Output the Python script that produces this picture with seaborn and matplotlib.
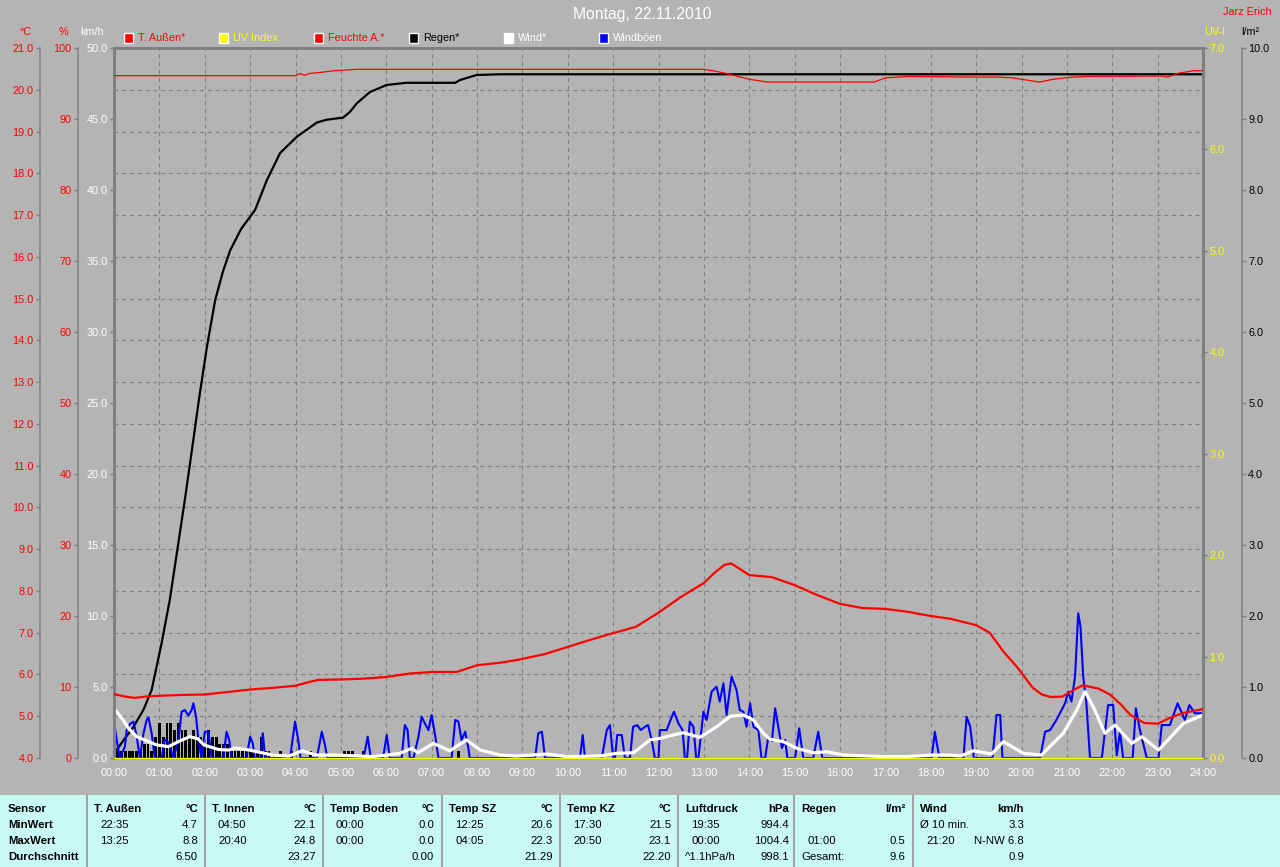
import numpy as np
import pandas as pd
import matplotlib
matplotlib.use("Agg")
import matplotlib.pyplot as plt
import seaborn as sns
from matplotlib.patches import Rectangle
from matplotlib.lines import Line2D

# ---------------- data ----------------
temp_h = [0.0, 0.25, 0.45, 0.7, 1.0, 1.5, 2.0, 2.5, 3.0, 3.5, 4.0, 4.3, 4.5, 5.0, 5.5,
          6.0, 6.5, 7.0, 7.55, 8.0, 8.5, 8.9, 9.5, 10.0, 10.5, 11.0, 11.5, 12.0, 12.5, 13.0,
          13.25, 13.45, 13.6, 13.8, 14.0, 14.5, 15.0, 15.5, 16.0, 16.5, 17.0, 17.5, 18.0, 18.45, 19.0,
          19.3, 19.6, 19.9, 20.25, 20.45, 20.65, 20.9, 21.15, 21.35, 21.7, 21.95, 22.2, 22.4, 22.7, 23.0,
          23.27, 23.57, 24.0]
temp_c = [5.53, 5.47, 5.44, 5.47, 5.49, 5.51, 5.52, 5.58, 5.64, 5.68, 5.73, 5.82, 5.87, 5.88, 5.90,
          5.94, 6.02, 6.06, 6.06, 6.22, 6.28, 6.35, 6.49, 6.66, 6.83, 6.99, 7.14, 7.48, 7.86, 8.19,
          8.45, 8.62, 8.66, 8.52, 8.38, 8.33, 8.14, 7.90, 7.69, 7.59, 7.57, 7.50, 7.40, 7.33, 7.18,
          7.00, 6.55, 6.18, 5.68, 5.52, 5.46, 5.47, 5.63, 5.74, 5.66, 5.52, 5.27, 5.03, 4.84, 4.82,
          4.96, 5.08, 5.17]

hum_h = [0.0, 4.0, 4.1, 4.2, 4.3, 4.6, 4.85, 5.35, 13.0, 13.2, 13.5, 14.0, 14.4, 16.75, 17.0,
         17.5, 19.0, 19.5, 19.8, 20.4, 20.7, 21.1, 21.5, 23.1, 23.2, 23.3, 23.5, 23.8, 24.0]
hum_pct = [96.1, 96.1, 96.4, 96.15, 96.4, 96.6, 96.8, 97.0, 97.0, 96.8, 96.4, 95.6, 95.2, 95.2, 95.8,
           96.0, 95.9, 95.9, 95.8, 95.2, 95.6, 95.9, 96.0, 96.05, 95.9, 96.1, 96.5, 96.8, 96.8]

rain_cum_h = [0.0, 0.1, 0.21, 0.43, 0.65, 0.83, 0.94, 1.05, 1.23, 1.4, 1.56, 1.72, 1.87, 2.05, 2.23,
              2.4, 2.56, 2.8, 3.11, 3.37, 3.66, 4.03, 4.25, 4.47, 4.69, 5.05, 5.2, 5.35, 5.64, 6.01,
              6.45, 7.52, 7.63, 7.99, 8.51, 24.0]
rain_cum = [0.08, 0.15, 0.25, 0.44, 0.68, 0.96, 1.29, 1.62, 2.23, 2.95, 3.63, 4.35, 5.04, 5.8, 6.45,
            6.85, 7.15, 7.45, 7.72, 8.14, 8.52, 8.75, 8.85, 8.95, 8.99, 9.02, 9.1, 9.22, 9.38, 9.48,
            9.51, 9.51, 9.55, 9.62, 9.63, 9.63]

rain_bar_min = [0, 5, 10, 15, 20, 25, 30, 35, 40, 45, 50, 55, 60, 65, 70, 75, 80, 85, 90, 95,
                100, 105, 110, 115, 120, 125, 130, 135, 140, 145, 150, 155, 160, 165, 170, 175,
                180, 185, 190, 195, 200, 205, 220, 235, 260, 305, 310, 315, 330, 455]
rain_bar = [0.1, 0.1, 0.1, 0.1, 0.1, 0.1, 0.1, 0.1, 0.2, 0.2, 0.1, 0.3, 0.5, 0.3, 0.5, 0.5, 0.4, 0.5, 0.4, 0.4,
            0.3, 0.4, 0.3, 0.3, 0.2, 0.4, 0.3, 0.3, 0.2, 0.2, 0.2, 0.1, 0.1, 0.1, 0.1, 0.1,
            0.1, 0.1, 0.1, 0.3, 0.1, 0.1, 0.1, 0.1, 0.1, 0.1, 0.1, 0.1, 0.1, 0.1]

wind_h = [0.0, 0.2, 0.32, 0.5, 0.77, 0.94, 1.2, 1.45, 1.67, 1.85, 1.98, 2.3, 2.53, 2.67, 2.98,
          3.49, 3.86, 4.15, 4.45, 4.96, 5.7, 6.0, 6.3, 6.56, 6.7, 7.04, 7.4, 7.77, 8.07, 8.51,
          8.87, 9.54, 9.98, 10.71, 11.08, 11.45, 11.81, 12.03, 12.33, 12.55, 12.91, 13.28, 13.58, 13.87, 14.09,
          14.31, 14.46, 14.75, 15.05, 15.41, 15.71, 16.07, 16.95, 17.47, 18.06, 18.42, 18.65, 18.94, 19.34, 19.6,
          20.04, 20.44, 20.92, 21.22, 21.4, 21.58, 21.84, 22.06, 22.43, 22.65, 23.02, 23.57, 24.0]
wind_kmh = [3.5, 2.68, 2.09, 1.5, 1.15, 0.92, 0.8, 1.2, 1.5, 1.35, 0.92, 0.6, 0.56, 0.7, 0.56,
            0.21, 0.14, 0.51, 0.21, 0.2, 0.1, 0.2, 0.33, 0.68, 0.37, 1.03, 0.51, 1.27, 0.56, 0.21,
            0.14, 0.28, 0.1, 0.14, 0.33, 0.37, 1.27, 1.38, 1.62, 1.78, 1.45, 2.2, 2.93, 3.03, 2.68,
            1.74, 1.32, 1.15, 0.68, 0.37, 0.44, 0.21, 0.1, 0.1, 0.21, 0.2, 0.14, 0.51, 0.28, 1.15,
            0.33, 0.21, 1.74, 3.38, 4.67, 3.61, 1.74, 2.32, 1.03, 1.5, 0.56, 2.44, 3.03]

gust_h = [0.0, 0.06, 0.13, 0.24, 0.28, 0.35, 0.43, 0.5, 0.57, 0.65,
          0.72, 0.76, 0.83, 0.9, 1.05, 1.12, 1.2, 1.31, 1.42, 1.49,
          1.56, 1.64, 1.71, 1.75, 1.81, 1.86, 1.93, 2.0, 2.08, 2.15,
          2.41, 2.48, 2.54, 2.59, 2.92, 3.0, 3.06, 3.1, 3.22, 3.28,
          3.33, 3.88, 3.99, 4.06, 4.11, 4.47, 4.58, 4.65, 4.7, 5.5,
          5.59, 5.66, 5.93, 6.01, 6.08, 6.34, 6.41, 6.47, 6.52, 6.6,
          6.71, 6.78, 6.85, 6.93, 7.0, 7.07, 7.15, 7.44, 7.52, 7.59,
          7.66, 7.74, 7.81, 7.84, 9.28, 9.35, 9.43, 9.5, 10.27, 10.33,
          10.38, 10.75, 10.86, 10.93, 11.0, 11.04, 11.09, 11.19, 11.26, 11.37,
          11.44, 11.53, 11.61, 11.7, 11.77, 11.85, 11.92, 12.0, 12.03, 12.18,
          12.25, 12.34, 12.44, 12.53, 12.58, 12.63, 12.69, 12.77, 12.83, 12.88,
          12.99, 13.06, 13.17, 13.28, 13.35, 13.43, 13.5, 13.61, 13.72, 13.79,
          13.87, 13.94, 14.02, 14.09, 14.2, 14.27, 14.35, 14.42, 14.5, 14.57,
          14.64, 14.72, 14.79, 14.84, 15.01, 15.1, 15.19, 15.41, 15.52, 15.61,
          18.02, 18.09, 18.19, 18.72, 18.79, 18.87, 18.95, 19.36, 19.45, 19.53,
          19.58, 20.41, 20.52, 20.63, 20.77, 20.96, 21.03, 21.1, 21.18, 21.25,
          21.3, 21.36, 21.43, 21.51, 21.77, 21.91, 22.02, 22.1, 22.17, 22.24,
          22.45, 22.52, 22.61, 22.76, 23.02, 23.09, 23.27, 23.44, 23.6, 23.7,
          23.82, 24.0]
gust_kmh = [2.56, 1.27, 0.0, 0.8, 1.97, 2.39, 2.56, 1.5, 0.0, 1.74,
            2.68, 2.86, 1.74, 0.0, 0.0, 1.3, 1.1, 0.0, 1.27, 3.26,
            3.38, 2.99, 3.38, 3.85, 2.86, 1.27, 0.0, 1.85, 1.85, 0.0,
            0.0, 1.85, 1.27, 0.0, 0.0, 1.5, 1.0, 0.0, 0.0, 1.74,
            0.0, 0.0, 2.56, 1.27, 0.0, 0.0, 1.85, 0.9, 0.0, 0.0,
            1.5, 0.0, 0.0, 1.62, 0.0, 0.0, 2.32, 1.97, 0.0, 0.0,
            1.5, 2.91, 2.44, 1.97, 3.03, 1.74, 0.0, 0.0, 2.68, 2.56,
            1.27, 1.85, 0.7, 0.0, 0.0, 1.74, 1.85, 0.0, 0.0, 1.62,
            0.0, 0.0, 1.97, 2.32, 0.0, 0.0, 1.62, 1.62, 0.0, 0.0,
            2.2, 2.32, 1.97, 2.2, 2.32, 1.27, 0.0, 0.0, 1.97, 1.97,
            2.56, 3.26, 2.44, 1.97, 0.0, 0.0, 2.56, 2.2, 0.0, 0.0,
            3.26, 2.68, 4.67, 5.02, 3.97, 5.26, 3.03, 5.73, 4.79, 3.38,
            3.26, 2.2, 3.85, 2.2, 1.97, 0.0, 0.0, 1.5, 1.2, 3.5,
            2.2, 0.7, 1.27, 0.0, 0.0, 2.09, 0.0, 0.0, 1.85, 0.0,
            0.0, 1.85, 0.0, 0.0, 2.91, 2.2, 0.0, 0.0, 3.03, 3.03,
            0.0, 0.0, 1.85, 1.97, 2.68, 3.85, 4.67, 3.97, 5.73, 10.19,
            9.25, 5.73, 3.85, 0.0, 0.0, 3.73, 3.73, 0.2, 1.85, 0.0,
            0.0, 3.5, 1.97, 0.0, 0.0, 2.32, 2.32, 3.85, 2.68, 3.73,
            3.15, 3.15]

uv_h = [0.0, 24.0]
uv_val = [0.0, 0.0]

hours = list(range(25))
hour_labels = [f"{h:02d}:00" for h in hours]
temp_ticks = list(range(4, 22))
hum_ticks = list(range(0, 101, 10))
kmh_ticks = list(range(0, 51, 5))
uv_ticks = list(range(0, 8))
rain_ticks = list(range(0, 11))

title = "Montag, 22.11.2010"
author = "Jarz Erich"
legend_labels = ["T. Außen*", "UV Index", "Feuchte A.*", "Regen*", "Wind*", "Windböen"]
legend_colors = ["#ff0000", "#ffff00", "#ff0000", "#000000", "#ffffff", "#0000ff"]
legend_text_colors = ["#ff0000", "#ffff00", "#ff0000", "#000000", "#ffffff", "#ffffff"]

row_labels = ["Sensor", "MinWert", "MaxWert", "Durchschnitt"]
group_titles = ["T. Außen", "T. Innen", "Temp Boden", "Temp SZ", "Temp KZ", "Luftdruck", "Regen", "Wind"]
group_units = ["°C", "°C", "°C", "°C", "°C", "hPa", "l/m²", "km/h"]
min_left = ["22:35", "04:50", "00:00", "12:25", "17:30", "19:35", "", "Ø 10 min."]
min_right = ["4.7", "22.1", "0.0", "20.6", "21.5", "994.4", "", "3.3"]
max_left = ["13:25", "20:40", "00:00", "04:05", "20:50", "00:00", "01:00", "21:20"]
max_right = ["8.8", "24.8", "0.0", "22.3", "23.1", "1004.4", "0.5", "N-NW 6.8"]
avg_left = ["", "", "", "", "", "^1.1hPa/h", "Gesamt:", ""]
avg_right = ["6.50", "23.27", "0.00", "21.29", "22.20", "998.1", "9.6", "0.9"]

assert len(gust_h) == len(gust_kmh)
assert len(wind_h) == len(wind_kmh)
assert len(temp_h) == len(temp_c)
assert len(rain_bar_min) == len(rain_bar)

# ---------------- styling ----------------
sns.set_style("white")
plt.rcParams['font.family'] = ['Liberation Sans', 'DejaVu Sans']
plt.rcParams['axes.grid'] = False

W, H = 1280, 867
BG = '#b4b4b4'
GREY = '#808080'
CYAN = '#c9f9f5'
PT = 72 / 100.0
FS = 7.8
TFS = 8.2

def fx(x):
    return x / W

def fy(y):
    return 1 - y / H

L, T, R, B = 114, 48, 1203, 758
fig = plt.figure(figsize=(W / 100, H / 100), dpi=100, facecolor=BG)
rect = [fx(L), fy(B), (R - L) / W, (B - T) / H]

def only_spine(a, name=None):
    a.grid(False)
    for s in a.spines.values():
        s.set_visible(False)
    if name:
        a.spines[name].set_visible(True)
        a.spines[name].set_color(GREY)
        a.spines[name].set_linewidth(1.1)

# base axes: temperature scale, grid, hour axis
ax = fig.add_axes(rect)
ax.set_facecolor(BG)
only_spine(ax, 'left')
ax.spines['left'].set_position(('outward', 74 * PT))
ax.spines['bottom'].set_visible(True)
ax.spines['bottom'].set_color(GREY)
ax.spines['bottom'].set_linewidth(1.0)
ax.set_xlim(0, 24)
ax.set_ylim(4, 21)
ax.set_xticks(hours)
ax.set_xticklabels(hour_labels)
ax.set_yticks(temp_ticks)
ax.set_yticklabels([f"{v:.1f}" for v in temp_ticks])
ax.tick_params(axis='x', direction='out', color=GREY, labelcolor='white', labelsize=FS,
               length=3, width=1, pad=4)
ax.tick_params(axis='y', direction='out', color=GREY, labelcolor='#ff0000', labelsize=FS,
               length=3, width=1, pad=1.5)
# dashed grid at every hour and every degree
for hh in hours[1:-1]:
    ax.axvline(hh, color=GREY, linestyle=(0, (3.5, 3.5)), linewidth=0.8, zorder=0.5)
for tt in temp_ticks[1:-1]:
    ax.axhline(tt, color=GREY, linestyle=(0, (3.5, 3.5)), linewidth=0.8, zorder=0.5)

# rain axis (l/m2): bars + cumulative
ax_r = ax.twinx()
only_spine(ax_r, 'right')
ax_r.spines['right'].set_position(('outward', 39 * PT))
ax_r.bar([m / 60 for m in rain_bar_min], rain_bar, width=0.062, color='black', linewidth=0)
sns.lineplot(x=rain_cum_h, y=rain_cum, ax=ax_r, color='black', linewidth=1.6,
             estimator=None, sort=False, legend=False)
ax_r.set_ylim(0, 10)
ax_r.set_yticks(rain_ticks)
ax_r.set_yticklabels([f"{v:.1f}" for v in rain_ticks])
ax_r.tick_params(axis='y', direction='out', color=GREY, labelcolor='black', labelsize=FS,
                 length=3, width=1, pad=1.5)

# km/h axis: wind and gusts, main frame
ax_k = ax.twinx()
only_spine(ax_k)
ax_k.yaxis.tick_left()
for nm in ['left', 'top', 'right']:
    ax_k.spines[nm].set_visible(True)
    ax_k.spines[nm].set_color(GREY)
    ax_k.spines[nm].set_linewidth(2.2)
sns.lineplot(x=gust_h, y=gust_kmh, ax=ax_k, color='#0000ff', linewidth=1.5,
             estimator=None, sort=False, legend=False)
sns.lineplot(x=wind_h, y=wind_kmh, ax=ax_k, color='white', linewidth=2.3,
             estimator=None, sort=False, legend=False)
ax_k.set_ylim(0, 50)
ax_k.set_yticks(kmh_ticks)
ax_k.set_yticklabels([f"{v:.1f}" for v in kmh_ticks])
ax_k.tick_params(axis='y', direction='out', color=GREY, labelcolor='white', labelsize=FS,
                 length=3, width=1, pad=1.5, left=True, labelleft=True, right=False, labelright=False)

# humidity axis (%)
ax_h = ax.twinx()
only_spine(ax_h, 'left')
ax_h.yaxis.tick_left()
ax_h.spines['left'].set_position(('outward', 36 * PT))
sns.lineplot(x=hum_h, y=hum_pct, ax=ax_h, color='#ff0000', linewidth=0.9,
             estimator=None, sort=False, legend=False)
ax_h.set_ylim(0, 100)
ax_h.set_yticks(hum_ticks)
ax_h.set_yticklabels([f"{v:d}" for v in hum_ticks])
ax_h.tick_params(axis='y', direction='out', color=GREY, labelcolor='#ff0000', labelsize=FS,
                 length=3, width=1, pad=1.5, left=True, labelleft=True, right=False, labelright=False)

# temperature line (on the °C scale)
ax_t = ax.twinx()
only_spine(ax_t)
sns.lineplot(x=temp_h, y=temp_c, ax=ax_t, color='#ff0000', linewidth=1.6,
             estimator=None, sort=False, legend=False)
ax_t.set_ylim(4, 21)
ax_t.set_yticks([])

# UV axis
ax_u = ax.twinx()
only_spine(ax_u)
sns.lineplot(x=uv_h, y=uv_val, ax=ax_u, color='#ffff00', linewidth=1.0,
             estimator=None, sort=False, legend=False, clip_on=False)
ax_u.set_ylim(0, 7)
ax_u.set_yticks(uv_ticks)
ax_u.set_yticklabels([f"{v:.1f}" for v in uv_ticks])
ax_u.tick_params(axis='y', direction='out', color=GREY, labelcolor='#ffff00', labelsize=FS,
                 length=3, width=1, pad=1.5)

for a in [ax, ax_r, ax_k, ax_h, ax_t, ax_u]:
    a.set_xlim(0, 24)
    a.set_xlabel('')
    a.set_ylabel('')
for a in [ax_r, ax_k, ax_h, ax_t, ax_u]:
    a.grid(False)
    a.xaxis.grid(False)
    a.yaxis.grid(False)
    a.minorticks_off()
ax.grid(False)
ax.minorticks_off()

# ---------------- header texts ----------------
fig.text(fx(642), fy(15), title, color='white', fontsize=11.3, ha='center', va='center')
fig.text(fx(1272), fy(12), author, color='#ff0000', fontsize=FS, ha='right', va='center')
fig.text(fx(25), fy(32), "°C", color='#ff0000', fontsize=FS, ha='center', va='center')
fig.text(fx(63), fy(32), "%", color='#ff0000', fontsize=FS, ha='center', va='center')
fig.text(fx(92), fy(32), "km/h", color='white', fontsize=FS, ha='center', va='center')
fig.text(fx(1215), fy(32), "UV-I", color='#ffff00', fontsize=FS, ha='center', va='center')
fig.text(fx(1250), fy(32), "l/m²", color='black', fontsize=FS, ha='center', va='center')

for i, (lab, col, tcol) in enumerate(zip(legend_labels, legend_colors, legend_text_colors)):
    x0 = 124 + 95 * i
    fig.add_artist(Rectangle((fx(x0), fy(42.5)), 9 / W, 9 / H, transform=fig.transFigure,
                             facecolor=col, edgecolor='white', linewidth=1.0))
    fig.text(fx(x0 + 14), fy(38), lab, color=tcol, fontsize=FS, ha='left', va='center')

# ---------------- bottom table ----------------
fig.add_artist(Rectangle((0, 0), 1, (867 - 795) / H, transform=fig.transFigure,
                         facecolor=CYAN, edgecolor='none'))
row_y = [809, 824.5, 840.5, 856.5]
for lab, yy in zip(row_labels, row_y):
    fig.text(fx(8), fy(yy), lab, color='black', fontsize=TFS, fontweight='bold', ha='left', va='center')

seps = [87, 205, 323, 442, 560, 678, 794, 913]
for s in seps:
    fig.add_artist(Line2D([fx(s), fx(s)], [fy(795), 0], transform=fig.transFigure,
                          color='#a4a4a4', linewidth=1.5))

def left_off(txt):
    if txt and txt[0].isdigit():
        return 13
    return 7

for i, s in enumerate(seps):
    fig.text(fx(s + 7), fy(row_y[0]), group_titles[i], fontsize=TFS, fontweight='bold',
             ha='left', va='center', color='black')
    fig.text(fx(s + 111), fy(row_y[0]), group_units[i], fontsize=TFS, fontweight='bold',
             ha='right', va='center', color='black')
    for yy, lt, rt in [(row_y[1], min_left[i], min_right[i]),
                       (row_y[2], max_left[i], max_right[i]),
                       (row_y[3], avg_left[i], avg_right[i])]:
        if lt:
            fig.text(fx(s + left_off(lt)), fy(yy), lt, fontsize=TFS, ha='left', va='center', color='black')
        if rt:
            fig.text(fx(s + 111), fy(yy), rt, fontsize=TFS, ha='right', va='center', color='black')

fig.savefig("out.png", dpi=100, facecolor=BG)
